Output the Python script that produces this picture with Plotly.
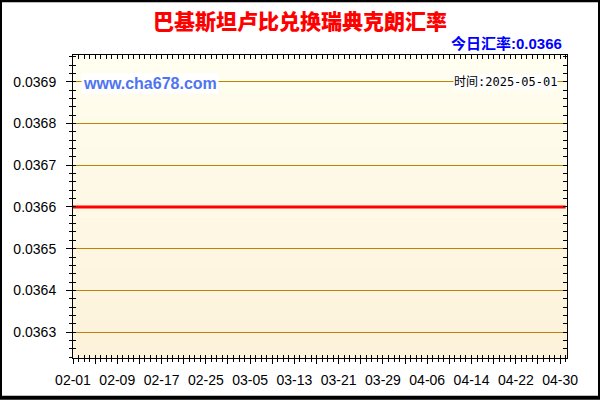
import plotly.graph_objects as go

# ---- data ----
dates = ["2025-02-01", "2025-02-05", "2025-02-09", "2025-02-13", "2025-02-17",
         "2025-02-21", "2025-02-25", "2025-03-01", "2025-03-05", "2025-03-09",
         "2025-03-13", "2025-03-17", "2025-03-21", "2025-03-25", "2025-03-29",
         "2025-04-02", "2025-04-06", "2025-04-10", "2025-04-14", "2025-04-18",
         "2025-04-22", "2025-04-26", "2025-04-30", "2025-05-01"]
rates = [0.0366, 0.0366, 0.0366, 0.0366, 0.0366, 0.0366, 0.0366, 0.0366,
         0.0366, 0.0366, 0.0366, 0.0366, 0.0366, 0.0366, 0.0366, 0.0366,
         0.0366, 0.0366, 0.0366, 0.0366, 0.0366, 0.0366, 0.0366, 0.0366]
major_ticks = ["2025-02-01", "2025-02-05", "2025-02-09", "2025-02-13", "2025-02-17",
               "2025-02-21", "2025-02-25", "2025-03-01", "2025-03-05", "2025-03-09",
               "2025-03-13", "2025-03-17", "2025-03-21", "2025-03-25", "2025-03-29",
               "2025-04-02", "2025-04-06", "2025-04-10", "2025-04-14", "2025-04-18",
               "2025-04-22", "2025-04-26", "2025-04-30"]
major_labels = ["02-01", "", "02-09", "", "02-17", "", "02-25", "", "03-05", "",
                "03-13", "", "03-21", "", "03-29", "", "04-06", "", "04-14", "",
                "04-22", "", "04-30"]
title_text = "巴基斯坦卢比兑换瑞典克朗汇率"
today_text = "今日汇率:0.0366"
site_text = "www.cha678.com"
time_text = "时间:2025-05-01"

W, H = 600, 400
ML, MR, MT, MB = 73, 33, 55, 40
PW, PH = W - ML - MR, H - MT - MB

x_range = ["2025-02-01 00:00", "2025-05-01 06:00"]
y_range = [0.036238, 0.036964]

fig = go.Figure()
fig.add_trace(go.Scatter(x=dates, y=rates, mode="lines",
                         line=dict(color="#FF0000", width=3),
                         hoverinfo="skip", showlegend=False))
# invisible helper traces for overlay tick axes
for xa, ya in [("x2", "y2"), ("x3", "y3")]:
    fig.add_trace(go.Scatter(x=dates, y=rates, mode="lines", opacity=0,
                             xaxis=xa, yaxis=ya, hoverinfo="skip", showlegend=False))

DAY = 86400000
tickfont = dict(family="Liberation Sans, Arial, sans-serif", size=14, color="#000000")

fig.update_layout(
    width=W, height=H, autosize=False,
    margin=dict(l=ML, r=MR, t=MT, b=MB, pad=0),
    paper_bgcolor="#FFFFFF", plot_bgcolor="#FFFEF0",
    showlegend=False,
    title=dict(text=title_text, x=0.5, xref="container", xanchor="center",
               y=1 - 22 / H, yref="container", yanchor="middle",
               font=dict(family="Noto Sans CJK SC", size=21, color="#FF0000", weight=900)),
    xaxis=dict(type="date", range=x_range, showline=True, linecolor="#000000", linewidth=1,
               mirror=True, showgrid=False, zeroline=False,
               tickmode="array", tickvals=major_ticks, ticktext=major_labels,
               ticks="outside", ticklen=5, tickwidth=1, tickcolor="#000000",
               tickfont=tickfont, ticklabelstandoff=4,
               minor=dict(dtick=DAY, tick0="2025-02-01", ticks="outside", ticklen=3,
                          tickcolor="#000000", showgrid=False)),
    xaxis2=dict(type="date", range=x_range, overlaying="x", anchor="y2", side="bottom",
                showline=False, showgrid=False, zeroline=False, showticklabels=False,
                tickmode="array", tickvals=major_ticks, ticks="inside", ticklen=3,
                tickcolor="#000000",
                minor=dict(dtick=DAY, tick0="2025-02-01", ticks="inside", ticklen=3,
                           tickcolor="#000000", showgrid=False)),
    xaxis3=dict(type="date", range=x_range, overlaying="x", anchor="y3", side="top",
                showline=False, showgrid=False, zeroline=False, showticklabels=False,
                tickmode="linear", tick0="2025-02-01", dtick=DAY, ticks="inside",
                ticklen=4, tickcolor="#000000"),
    yaxis=dict(range=y_range, showline=True, linecolor="#000000", linewidth=1, mirror=True,
               showgrid=True, gridcolor="#BC8400", gridwidth=1, zeroline=False,
               tickmode="linear", tick0=0.0363, dtick=0.0001, tickformat=".4f",
               ticks="outside", ticklen=6, tickcolor="#000000", tickfont=tickfont,
               ticklabelstandoff=7,
               minor=dict(dtick=0.00002, tick0=0.0363, ticks="outside", ticklen=3,
                          tickcolor="#000000", showgrid=False)),
    yaxis2=dict(range=y_range, overlaying="y", anchor="x2", side="left",
                showline=False, showgrid=False, zeroline=False, showticklabels=False,
                tickmode="linear", tick0=0.0363, dtick=0.0001, ticks="inside", ticklen=3,
                tickcolor="#000000",
                minor=dict(dtick=0.00002, tick0=0.0363, ticks="inside", ticklen=3,
                           tickcolor="#000000", showgrid=False)),
    yaxis3=dict(range=y_range, overlaying="y", anchor="x3", side="right",
                showline=False, showgrid=False, zeroline=False, showticklabels=False,
                tickmode="linear", tick0=0.0363, dtick=0.00002, ticks="inside", ticklen=4,
                tickcolor="#000000"),
)

# vertical background gradient in the plot area
top_c = (255, 254, 240)
bot_c = (253, 242, 218)
N = 40
for i in range(N):
    t = (i + 0.5) / N
    c = tuple(round(bot_c[k] + (top_c[k] - bot_c[k]) * t) for k in range(3))
    fig.add_shape(type="rect", xref="x domain", yref="y domain",
                  x0=0, x1=1, y0=i / N, y1=(i + 1) / N + 0.002,
                  fillcolor="rgb(%d,%d,%d)" % c, line=dict(width=0), layer="below")

# outer black frame
fig.add_shape(type="rect", xref="paper", yref="paper",
              x0=-ML / PW, x1=1 + MR / PW, y0=-MB / PH, y1=1 + MT / PH,
              line=dict(color="#000000", width=4), fillcolor="rgba(0,0,0,0)")

fig.add_annotation(text=today_text, xref="paper", yref="paper",
                   x=(564 - ML) / PW, y=(H - MB - 43) / PH, xanchor="right", yanchor="middle",
                   showarrow=False,
                   font=dict(family="Liberation Sans, Noto Sans CJK SC", size=15,
                             color="#0000FF", weight=700))
fig.add_annotation(text=site_text, xref="paper", yref="paper",
                   x=(81 - ML) / PW, y=(H - MB - 84) / PH, xanchor="left", yanchor="middle",
                   showarrow=False, bgcolor="#FFFFFF", borderpad=1,
                   font=dict(family="Liberation Sans, Arial", size=16,
                             color="#4F74F0", weight=700))
fig.add_annotation(text=time_text, xref="paper", yref="paper",
                   x=(558 - ML) / PW, y=(H - MB - 82) / PH, xanchor="right", yanchor="middle",
                   showarrow=False, bgcolor="#FFFFFF", borderpad=0,
                   font=dict(family="DejaVu Sans Mono, Noto Sans CJK SC", size=12,
                             color="#000000"))

fig.write_html("out.html", config={"displayModeBar": False},
               post_script="document.body.style.margin='0';document.body.style.padding='0';")
